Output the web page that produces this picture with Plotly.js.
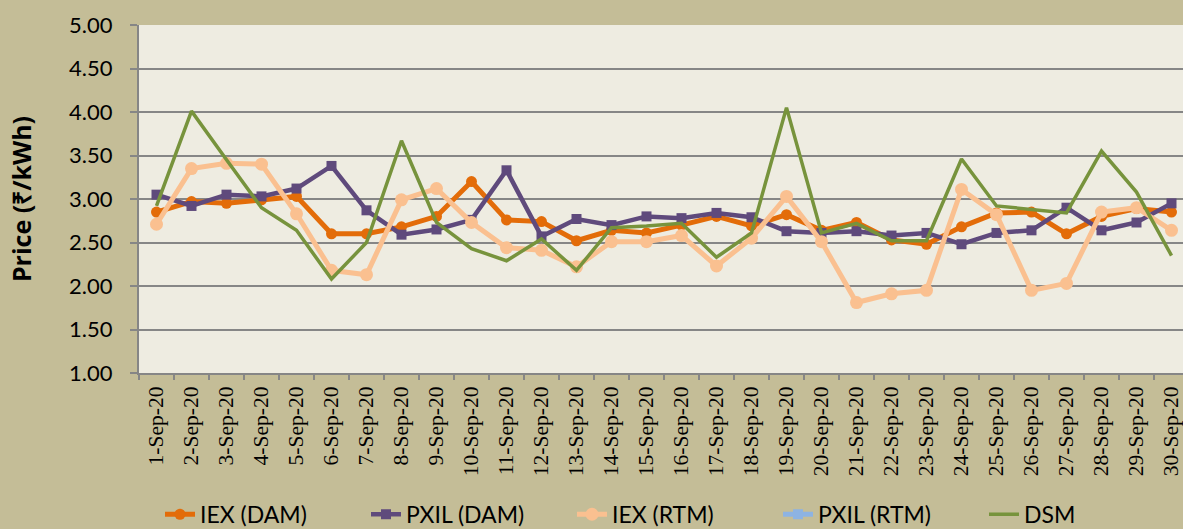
<!DOCTYPE html>
<html>
<head>
<meta charset="utf-8">
<script src="https://cdn.plot.ly/plotly-3.0.1.min.js"></script>
<style>
html,body{margin:0;padding:0;overflow:hidden;background:#C4BD97;}
#chart{width:1190px;height:529px;}
</style>
</head>
<body>
<div id="chart"></div>
<script>
const dates = ["1-Sep-20","2-Sep-20","3-Sep-20","4-Sep-20","5-Sep-20","6-Sep-20","7-Sep-20","8-Sep-20","9-Sep-20","10-Sep-20",
"11-Sep-20","12-Sep-20","13-Sep-20","14-Sep-20","15-Sep-20","16-Sep-20","17-Sep-20","18-Sep-20","19-Sep-20","20-Sep-20",
"21-Sep-20","22-Sep-20","23-Sep-20","24-Sep-20","25-Sep-20","26-Sep-20","27-Sep-20","28-Sep-20","29-Sep-20","30-Sep-20"];

const iexDam  = [2.85,2.97,2.95,2.99,3.03,2.60,2.60,2.68,2.80,3.20,2.76,2.74,2.52,2.64,2.61,2.70,2.80,2.69,2.82,2.64,2.73,2.53,2.48,2.68,2.84,2.85,2.60,2.80,2.89,2.85];
const pxilDam = [3.05,2.92,3.05,3.03,3.12,3.38,2.87,2.59,2.65,2.76,3.33,2.57,2.77,2.70,2.80,2.78,2.84,2.79,2.63,2.61,2.63,2.58,2.61,2.48,2.61,2.64,2.90,2.64,2.73,2.95];
const iexRtm  = [2.71,3.35,3.41,3.40,2.83,2.18,2.13,2.99,3.12,2.73,2.44,2.41,2.22,2.51,2.51,2.58,2.23,2.55,3.03,2.51,1.81,1.91,1.95,3.11,2.82,1.95,2.03,2.85,2.90,2.64];
const pxilRtm = [null,null,null,null,null,null,null,null,null,null,null,null,null,null,null,null,null,null,null,null,null,null,null,null,null,null,null,null,null,null];
const dsm     = [2.92,4.01,3.45,2.90,2.64,2.08,2.50,3.67,2.73,2.43,2.29,2.54,2.18,2.67,2.69,2.72,2.33,2.61,4.05,2.61,2.72,2.52,2.52,3.46,2.92,2.88,2.84,3.55,3.08,2.35];

const yTicks = [1.00,1.50,2.00,2.50,3.00,3.50,4.00,4.50,5.00];

const traces = [
  {name:"IEX (DAM)", x:dates, y:iexDam, type:"scatter", mode:"lines+markers",
   line:{color:"#E36C09", width:5}, marker:{symbol:"circle", size:11, color:"#E36C09"}},
  {name:"PXIL (DAM)", x:dates, y:pxilDam, type:"scatter", mode:"lines+markers",
   line:{color:"#5F4A7C", width:4.5}, marker:{symbol:"square", size:10, color:"#5F4A7C"}},
  {name:"IEX (RTM)", x:dates, y:iexRtm, type:"scatter", mode:"lines+markers",
   line:{color:"#FAC090", width:5}, marker:{symbol:"circle", size:13, color:"#FAC090"}},
  {name:"PXIL (RTM)", x:dates, y:pxilRtm, type:"scatter", mode:"lines+markers",
   line:{color:"#8DB3E2", width:5}, marker:{symbol:"square", size:10, color:"#8DB3E2"}},
  {name:"DSM", x:dates, y:dsm, type:"scatter", mode:"lines",
   line:{color:"#77933C", width:3.5}}
];

const layout = {
  width:1190, height:529,
  paper_bgcolor:"#C4BD97", plot_bgcolor:"#EEECE1",
  margin:{l:139, r:1, t:25, b:156, autoexpand:false},
  showlegend:true,
  xaxis:{type:"category", range:[-0.5,29.5], tickson:"boundaries", ticks:"outside", ticklen:5, tickwidth:2,
    tickcolor:"#868686", showline:true, linecolor:"#868686", linewidth:2, showgrid:false, ticklabelstandoff:3,
    tickangle:-90, tickfont:{family:"Liberation Serif", size:21.5, color:"#000"}, automargin:false},
  yaxis:{range:[1,5], tickvals:yTicks, ticktext:yTicks.map(v=>v.toFixed(2)), ticks:"outside", ticklen:7, tickwidth:2,
    tickcolor:"#868686", showline:true, linecolor:"#868686", linewidth:2,
    showgrid:true, gridcolor:"#868686", gridwidth:2, zeroline:false, ticklabelstandoff:13,
    tickfont:{family:"Lato", size:22, color:"#000"}, automargin:false,
    title:{text:"<b>Price (₹/kWh)</b>", font:{family:"Open Sans", size:25, color:"#000"}, standoff:30}},
  legend:{orientation:"h", x:0.02, xanchor:"left", y:-0.406, yanchor:"middle",
    font:{family:"Lato", size:23, color:"#000"}, bgcolor:"rgba(0,0,0,0)", entrywidth:161, entrywidthmode:"pixels"}
};

Plotly.newPlot("chart", traces, layout, {displayModeBar:false, staticPlot:true});
</script>
</body>
</html>
